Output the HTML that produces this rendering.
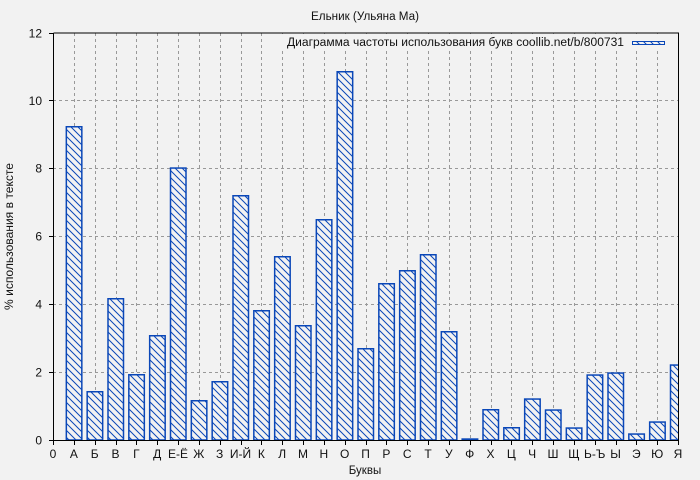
<!DOCTYPE html>
<html><head><meta charset="utf-8"><style>
html,body{margin:0;padding:0;background:#f2f2f2;}
svg{display:block;font-family:"Liberation Sans","DejaVu Sans",sans-serif;}
</style></head><body>
<svg width="700" height="480" viewBox="0 0 700 480" xmlns="http://www.w3.org/2000/svg">
<defs>
<pattern id="h" patternUnits="userSpaceOnUse" width="7" height="7">
<rect width="7" height="7" fill="#f2f2f2"/>
<path d="M0,0 L7,7 M-1,6 L1,8 M6,-1 L8,1" stroke="#0a47b8" stroke-width="1"/>
</pattern>
<clipPath id="pc"><rect x="53" y="33" width="625" height="407"/></clipPath>
</defs>
<rect width="700" height="480" fill="#f2f2f2"/>
<text x="365" y="20" font-size="11.5" text-anchor="middle" fill="#111" textLength="108" lengthAdjust="spacingAndGlyphs">Ельник (Ульяна Ма)</text>
<g stroke="#999" stroke-width="1" stroke-dasharray="3,3" fill="none">
<path d="M53,372.5H678M53,304.5H678M53,236.5H678M53,168.5H678M53,100.5H678"/>
<path d="M74.5,33V440M95.5,33V440M116.5,33V440M136.5,33V440M157.5,33V440M178.5,33V440M199.5,33V440M220.5,33V440M241.5,33V440M261.5,33V440M282.5,33V440M303.5,33V440M324.5,33V440M345.5,33V440M366.5,33V440M386.5,33V440M407.5,33V440M428.5,33V440M449.5,33V440M470.5,33V440M491.5,33V440M511.5,33V440M532.5,33V440M553.5,33V440M574.5,33V440M595.5,33V440M616.5,33V440M636.5,33V440M657.5,33V440"/>
</g>
<g clip-path="url(#pc)" fill="url(#h)" stroke="#0a47b8" stroke-width="1.5">
<rect x="66.33" y="126.75" width="15.5" height="313.25"/>
<rect x="87.17" y="391.75" width="15.5" height="48.25"/>
<rect x="108" y="298.75" width="15.5" height="141.25"/>
<rect x="128.83" y="374.75" width="15.5" height="65.25"/>
<rect x="149.67" y="335.75" width="15.5" height="104.25"/>
<rect x="170.5" y="168.05" width="15.5" height="271.95"/>
<rect x="191.33" y="400.75" width="15.5" height="39.25"/>
<rect x="212.17" y="381.75" width="15.5" height="58.25"/>
<rect x="233" y="195.75" width="15.5" height="244.25"/>
<rect x="253.83" y="310.75" width="15.5" height="129.25"/>
<rect x="274.67" y="256.75" width="15.5" height="183.25"/>
<rect x="295.5" y="325.75" width="15.5" height="114.25"/>
<rect x="316.33" y="219.75" width="15.5" height="220.25"/>
<rect x="337.17" y="71.75" width="15.5" height="368.25"/>
<rect x="358" y="348.75" width="15.5" height="91.25"/>
<rect x="378.83" y="283.75" width="15.5" height="156.25"/>
<rect x="399.67" y="270.75" width="15.5" height="169.25"/>
<rect x="420.5" y="254.75" width="15.5" height="185.25"/>
<rect x="441.33" y="331.75" width="15.5" height="108.25"/>
<rect x="462.17" y="439.05" width="15.5" height="0.95"/>
<rect x="483" y="409.75" width="15.5" height="30.25"/>
<rect x="503.83" y="427.75" width="15.5" height="12.25"/>
<rect x="524.67" y="399.05" width="15.5" height="40.95"/>
<rect x="545.5" y="410.05" width="15.5" height="29.95"/>
<rect x="566.33" y="428.05" width="15.5" height="11.95"/>
<rect x="587.17" y="375.05" width="15.5" height="64.95"/>
<rect x="608" y="373.05" width="15.5" height="66.95"/>
<rect x="628.83" y="434.05" width="15.5" height="5.95"/>
<rect x="649.67" y="422.05" width="15.5" height="17.95"/>
<rect x="670.5" y="365.05" width="15.5" height="74.95"/>
</g>
<rect x="281" y="34" width="396" height="16" fill="#f2f2f2"/>
<text x="287" y="46" font-size="11.5" fill="#111" textLength="337" lengthAdjust="spacingAndGlyphs">Диаграмма частоты использования букв coollib.net/b/800731</text>
<rect x="632.5" y="41.5" width="32" height="3" fill="url(#h)" stroke="#0a47b8" stroke-width="1"/>
<g stroke="#000" stroke-width="1" fill="none">
<path d="M53.5,33V440.5H678.5V33H53.5"/>
<path d="M49,440.5H53M49,372.5H53M49,304.5H53M49,236.5H53M49,168.5H53M49,100.5H53M49,33.5H53"/>
<path d="M53.5,440V445M74.5,440V445M95.5,440V445M116.5,440V445M136.5,440V445M157.5,440V445M178.5,440V445M199.5,440V445M220.5,440V445M241.5,440V445M261.5,440V445M282.5,440V445M303.5,440V445M324.5,440V445M345.5,440V445M366.5,440V445M386.5,440V445M407.5,440V445M428.5,440V445M449.5,440V445M470.5,440V445M491.5,440V445M511.5,440V445M532.5,440V445M553.5,440V445M574.5,440V445M595.5,440V445M616.5,440V445M636.5,440V445M657.5,440V445M678.5,440V445"/>
</g>
<g font-size="12" fill="#111" text-anchor="end">
<text x="42" y="444.5">0</text>
<text x="42" y="376.5">2</text>
<text x="42" y="308.5">4</text>
<text x="42" y="240.5">6</text>
<text x="42" y="172.5">8</text>
<text x="42" y="105">10</text>
<text x="42" y="37.5">12</text>
</g>
<g font-size="12" fill="#111" text-anchor="middle">
<text x="53" y="458">0</text>
<text x="73.83" y="458">А</text>
<text x="94.67" y="458">Б</text>
<text x="115.5" y="458">В</text>
<text x="136.33" y="458">Г</text>
<text x="157.17" y="458">Д</text>
<text x="178" y="458">Е-Ё</text>
<text x="198.83" y="458">Ж</text>
<text x="219.67" y="458">З</text>
<text x="240.5" y="458">И-Й</text>
<text x="261.33" y="458">К</text>
<text x="282.17" y="458">Л</text>
<text x="303" y="458">М</text>
<text x="323.83" y="458">Н</text>
<text x="344.67" y="458">О</text>
<text x="365.5" y="458">П</text>
<text x="386.33" y="458">Р</text>
<text x="407.17" y="458">С</text>
<text x="428" y="458">Т</text>
<text x="448.83" y="458">У</text>
<text x="469.67" y="458">Ф</text>
<text x="490.5" y="458">Х</text>
<text x="511.33" y="458">Ц</text>
<text x="532.17" y="458">Ч</text>
<text x="553" y="458">Ш</text>
<text x="573.83" y="458">Щ</text>
<text x="594.67" y="458">Ь-Ъ</text>
<text x="615.5" y="458">Ы</text>
<text x="636.33" y="458">Э</text>
<text x="657.17" y="458">Ю</text>
<text x="678" y="458">Я</text>
</g>
<text x="365" y="474" font-size="11.5" fill="#111" text-anchor="middle">Буквы</text>
<text transform="translate(13,236.5) rotate(-90)" font-size="11.5" fill="#111" text-anchor="middle" textLength="147" lengthAdjust="spacingAndGlyphs">% использования в тексте</text>
</svg>
</body></html>
